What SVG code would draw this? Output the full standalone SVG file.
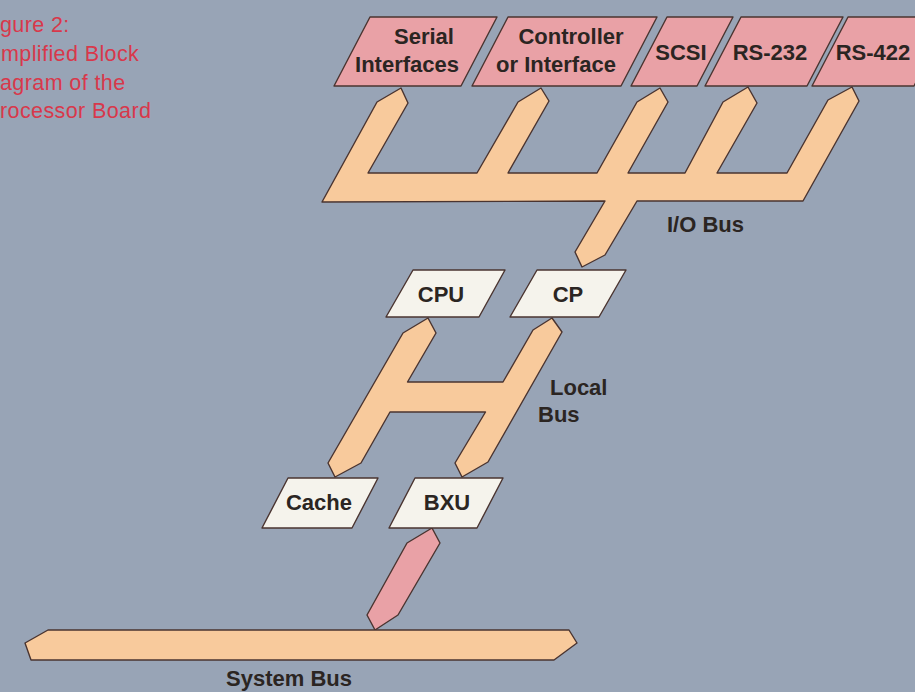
<svg xmlns="http://www.w3.org/2000/svg" width="915" height="692" viewBox="0 0 915 692">
<style>
.bg{fill:#98a4b6}
.pink{fill:#e9a1a6;stroke:#4a3430;stroke-width:1.4;stroke-linejoin:round}
.white{fill:#f5f3ec;stroke:#4a3430;stroke-width:1.4;stroke-linejoin:round}
.bus{fill:#f8ca9c;stroke:#4a3430;stroke-width:1.4;stroke-linejoin:round}
.lbl{font-family:"Liberation Sans",Arial,sans-serif;font-weight:bold;font-size:22px;fill:#2b2522;text-anchor:middle}
.lbl2{font-family:"Liberation Sans",Arial,sans-serif;font-weight:bold;font-size:22px;fill:#2b2522}
.cap{font-family:"Liberation Sans",Arial,sans-serif;font-size:21.5px;letter-spacing:0.4px;fill:#d8384b}
</style>
<rect class="bg" x="0" y="0" width="915" height="692"/>
<g id="caption">
<text class="cap" x="0" y="32">gure 2:</text>
<text class="cap" x="1" y="61">mplified Block</text>
<text class="cap" x="0" y="90">agram of the</text>
<text class="cap" x="0" y="118">rocessor Board</text>
</g>
<g id="connectors">
<polygon id="io-bus" class="bus" points="322,202 377,102 401,88 408,103 368,173 477,173 518,102 541,88 549,101 508,173 597,173 637,102 660,88 668,102 628,173 685,173 723,102 748,87 757,103 717,173 787,173 828,100 852,87 859,101 803,201 637,201 605,255 582,267 575,252 605,201"/>
<polygon id="local-bus" class="bus" points="428,318 436,333 407.5,382 503,382 533,330 552,318 562,332 488,462 462,477 455,463 485.5,412 390,412 361,463 335,477 328,463 403,333"/>
<polygon id="bxu-link" class="pink" points="407,543 432,528 440,543 398,615 375,630 367,615"/>
</g>
<g id="system-bus">
<polygon class="bus" points="48,630 569,630 577,643 554,660 31,660 25,643"/>
<text class="lbl" x="289" y="686">System Bus</text>
</g>
<g id="serial">
<polygon class="pink" points="370,17 497,17 461,86 334,86"/>
<text class="lbl" x="424" y="44">Serial</text>
<text class="lbl" x="407" y="72">Interfaces</text>
</g>
<g id="controller">
<polygon class="pink" points="508,17 657,17 621,86 472,86"/>
<text class="lbl" x="571" y="44">Controller</text>
<text class="lbl" x="556" y="72">or Interface</text>
</g>
<g id="scsi">
<polygon class="pink" points="667,17 733,17 697,86 631,86"/>
<text class="lbl" x="681" y="60">SCSI</text>
</g>
<g id="rs232">
<polygon class="pink" points="741,17 843,17 807,86 705,86"/>
<text class="lbl" x="770" y="60">RS-232</text>
</g>
<g id="rs422">
<polygon class="pink" points="848,17 950,17 914,86 812,86"/>
<text class="lbl" x="873" y="60">RS-422</text>
</g>
<g id="cpu">
<polygon class="white" points="413,270 505,270 479,317 386,317"/>
<text class="lbl" x="441" y="302">CPU</text>
</g>
<g id="cp">
<polygon class="white" points="537,270 626,270 599,317 510,317"/>
<text class="lbl" x="568" y="302">CP</text>
</g>
<g id="cache">
<polygon class="white" points="288,478 378,478 352,528 262,528"/>
<text class="lbl" x="319" y="510">Cache</text>
</g>
<g id="bxu">
<polygon class="white" points="415,478 503,478 477,528 389,528"/>
<text class="lbl" x="447" y="510">BXU</text>
</g>
<g id="labels">
<text class="lbl2" x="667" y="232">I/O Bus</text>
<text class="lbl2" x="550" y="395">Local</text>
<text class="lbl2" x="538" y="422">Bus</text>
</g>
</svg>
